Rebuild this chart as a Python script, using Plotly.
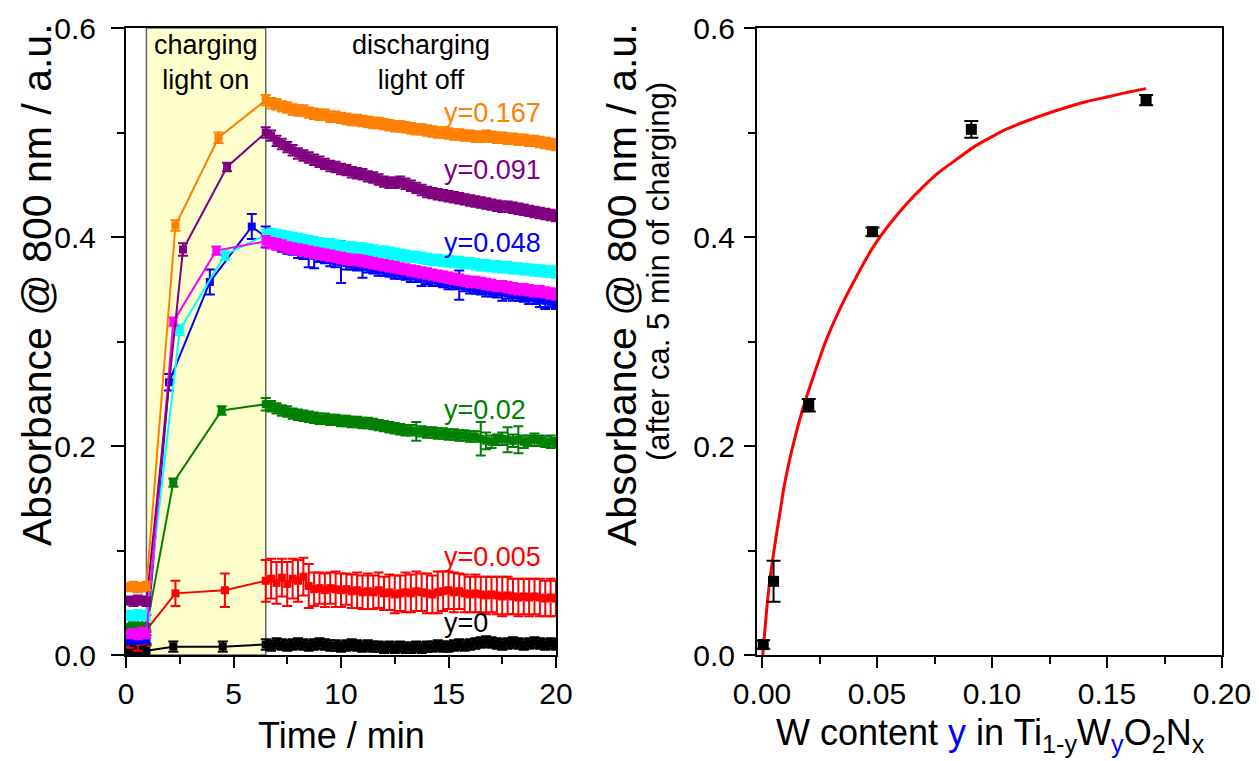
import plotly.graph_objects as go

FONT = "Liberation Sans, Arial, sans-serif"

# ---------------- Left panel data ----------------
t_pre = [0.15, 0.35, 0.55, 0.75, 0.95]
t_dis = [round(6.5 + 0.25 * i, 2) for i in range(55)]

# y = 0 (black)
k_pre = [0.004, 0.005, 0.003, 0.005, 0.004]
k_chg_t = [2.2, 4.5]
k_chg = [0.008, 0.008]
k_dis = [0.010, 0.009, 0.011, 0.010, 0.009, 0.010, 0.011, 0.010, 0.009, 0.010,
         0.011, 0.010, 0.009, 0.009, 0.008, 0.009, 0.010, 0.009, 0.008, 0.009,
         0.008, 0.008, 0.007, 0.008, 0.007, 0.008, 0.007, 0.007, 0.008, 0.007,
         0.008, 0.008, 0.009, 0.008, 0.008, 0.009, 0.010, 0.009, 0.010, 0.011,
         0.012, 0.013, 0.012, 0.011, 0.010, 0.011, 0.012, 0.011, 0.010, 0.011,
         0.012, 0.011, 0.010, 0.011, 0.010]
k_err = 0.005

# y = 0.005 (red)
r_pre = [0.022, 0.028, 0.020, 0.026, 0.024]
r_chg_t = [2.3, 4.6]
r_chg = [0.059, 0.062]
r_dis = [0.071, 0.073, 0.069, 0.074, 0.068, 0.073, 0.071, 0.075, 0.066, 0.063,
         0.064, 0.062, 0.064, 0.063, 0.062, 0.063, 0.061, 0.062, 0.060, 0.061,
         0.060, 0.062, 0.059, 0.060, 0.058, 0.059, 0.060, 0.059, 0.061, 0.060,
         0.059, 0.058, 0.060, 0.061, 0.062, 0.060, 0.061, 0.059, 0.058, 0.059,
         0.058, 0.057, 0.058, 0.057, 0.056, 0.057, 0.056, 0.055, 0.056, 0.055,
         0.056, 0.055, 0.054, 0.055, 0.054]
r_err_pre = [0.015, 0.014, 0.016, 0.015, 0.014]
r_err_chg = [0.012, 0.016]
r_err_dis = [0.020, 0.019, 0.020, 0.018, 0.021, 0.019, 0.020, 0.018, 0.021, 0.016,
             0.015, 0.016, 0.015, 0.017, 0.016, 0.015, 0.016, 0.017, 0.016, 0.017,
             0.016, 0.017, 0.016, 0.017, 0.018, 0.017, 0.019, 0.018, 0.019, 0.018,
             0.019, 0.018, 0.020, 0.019, 0.018, 0.019, 0.017, 0.018, 0.017, 0.018,
             0.017, 0.018, 0.017, 0.018, 0.019, 0.018, 0.017, 0.018, 0.017, 0.018,
             0.017, 0.018, 0.017, 0.018, 0.017]

# y = 0.02 (green)
g_pre = [0.026, 0.028, 0.025, 0.027, 0.026]
g_chg_t = [2.2, 4.45]
g_chg = [0.165, 0.234]
g_dis = [0.240, 0.238, 0.236, 0.234, 0.233, 0.231, 0.230, 0.229, 0.228, 0.227,
         0.226, 0.226, 0.225, 0.225, 0.224, 0.224, 0.223, 0.223, 0.222, 0.222,
         0.221, 0.220, 0.219, 0.218, 0.217, 0.216, 0.215, 0.215, 0.214, 0.214,
         0.213, 0.213, 0.212, 0.212, 0.211, 0.211, 0.210, 0.210, 0.209, 0.209,
         0.207, 0.205, 0.204, 0.206, 0.207, 0.206, 0.205, 0.206, 0.204, 0.205,
         0.206, 0.205, 0.204, 0.204, 0.203]
g_err_dis = [0.006, 0.005, 0.005, 0.005, 0.005, 0.005, 0.005, 0.005, 0.005, 0.005,
             0.005, 0.005, 0.005, 0.005, 0.005, 0.005, 0.005, 0.005, 0.005, 0.005,
             0.005, 0.005, 0.005, 0.005, 0.005, 0.005, 0.005, 0.005, 0.009, 0.005,
             0.005, 0.005, 0.005, 0.005, 0.005, 0.005, 0.005, 0.005, 0.005, 0.005,
             0.016, 0.008, 0.006, 0.005, 0.006, 0.012, 0.006, 0.013, 0.006, 0.005,
             0.006, 0.005, 0.005, 0.006, 0.005]

# y = 0.048 (blue)
b_pre = [0.014, 0.016, 0.015, 0.017, 0.015]
b_chg_t = [2.0, 3.9, 5.85]
b_chg = [0.261, 0.357, 0.410]
b_err_chg = [0.008, 0.012, 0.012]
b_dis = [0.400, 0.396, 0.393, 0.391, 0.389, 0.388, 0.386, 0.385, 0.384, 0.382,
         0.381, 0.380, 0.378, 0.377, 0.376, 0.375, 0.374, 0.373, 0.372, 0.371,
         0.370, 0.369, 0.368, 0.367, 0.366, 0.365, 0.364, 0.363, 0.362, 0.361,
         0.360, 0.359, 0.358, 0.357, 0.356, 0.355, 0.354, 0.353, 0.352, 0.351,
         0.350, 0.349, 0.348, 0.347, 0.347, 0.346, 0.345, 0.344, 0.343, 0.342,
         0.341, 0.340, 0.339, 0.338, 0.337]
b_err_dis = [0.010, 0.006, 0.005, 0.005, 0.005, 0.005, 0.006, 0.006, 0.013, 0.012,
             0.005, 0.005, 0.006, 0.006, 0.020, 0.006, 0.005, 0.005, 0.011, 0.005,
             0.005, 0.006, 0.005, 0.005, 0.006, 0.005, 0.005, 0.006, 0.005, 0.008,
             0.005, 0.006, 0.005, 0.005, 0.006, 0.005, 0.014, 0.005, 0.006, 0.005,
             0.005, 0.006, 0.005, 0.005, 0.008, 0.005, 0.006, 0.005, 0.005, 0.006,
             0.005, 0.007, 0.008, 0.005, 0.006]

# cyan series
c_pre = [0.038, 0.037, 0.039, 0.038, 0.037]
c_chg_t = [2.5, 4.6]
c_chg = [0.311, 0.383]
c_dis = [0.402, 0.403, 0.402, 0.401, 0.400, 0.399, 0.398, 0.397, 0.396, 0.395,
         0.394, 0.393, 0.393, 0.392, 0.391, 0.390, 0.390, 0.389, 0.389, 0.388,
         0.387, 0.386, 0.386, 0.385, 0.384, 0.383, 0.382, 0.381, 0.381, 0.380,
         0.379, 0.378, 0.378, 0.377, 0.377, 0.376, 0.376, 0.375, 0.375, 0.374,
         0.373, 0.373, 0.372, 0.372, 0.371, 0.371, 0.370, 0.370, 0.369, 0.369,
         0.368, 0.368, 0.367, 0.367, 0.366]

# magenta series
m_pre = [0.020, 0.021, 0.019, 0.022, 0.020]
m_chg_t = [2.2, 4.2]
m_chg = [0.319, 0.387]
m_dis = [0.396, 0.394, 0.393, 0.392, 0.390, 0.389, 0.388, 0.387, 0.386, 0.385,
         0.384, 0.383, 0.382, 0.381, 0.380, 0.379, 0.378, 0.378, 0.377, 0.376,
         0.375, 0.374, 0.373, 0.372, 0.371, 0.370, 0.369, 0.368, 0.367, 0.366,
         0.365, 0.364, 0.363, 0.362, 0.361, 0.360, 0.359, 0.358, 0.357, 0.357,
         0.356, 0.355, 0.354, 0.353, 0.353, 0.352, 0.351, 0.350, 0.350, 0.349,
         0.348, 0.348, 0.347, 0.346, 0.345]

# y = 0.091 (purple)
p_pre = [0.052, 0.051, 0.053, 0.052, 0.051]
p_chg_t = [2.65, 4.7]
p_chg = [0.388, 0.467]
p_dis = [0.500, 0.497, 0.492, 0.489, 0.486, 0.483, 0.480, 0.478, 0.476, 0.474,
         0.472, 0.470, 0.468, 0.467, 0.465, 0.464, 0.462, 0.461, 0.460, 0.458,
         0.457, 0.455, 0.453, 0.452, 0.452, 0.453, 0.451, 0.449, 0.447, 0.445,
         0.443, 0.442, 0.441, 0.440, 0.439, 0.438, 0.437, 0.436, 0.435, 0.434,
         0.433, 0.432, 0.431, 0.430, 0.429, 0.429, 0.428, 0.427, 0.426, 0.425,
         0.424, 0.423, 0.422, 0.421, 0.420]

# y = 0.167 (orange)
o_pre = [0.065, 0.066, 0.064, 0.065, 0.066]
o_chg_t = [2.3, 4.3]
o_chg = [0.411, 0.495]
o_dis = [0.531, 0.528, 0.527, 0.525, 0.524, 0.522, 0.521, 0.521, 0.519, 0.518,
         0.517, 0.517, 0.515, 0.515, 0.514, 0.513, 0.512, 0.512, 0.511, 0.510,
         0.509, 0.509, 0.508, 0.507, 0.506, 0.506, 0.505, 0.504, 0.503, 0.503,
         0.502, 0.501, 0.500, 0.500, 0.499, 0.498, 0.498, 0.497, 0.497, 0.496,
         0.496, 0.497, 0.496, 0.495, 0.495, 0.494, 0.494, 0.493, 0.493, 0.492,
         0.492, 0.491, 0.490, 0.489, 0.488]

# labels on the left panel
label_text = ["y=0.167", "y=0.091", "y=0.048", "y=0.02", "y=0.005", "y=0"]
label_x = [19.4, 19.4, 19.4, 18.7, 19.4, 16.95]
label_y = [0.519, 0.464, 0.394, 0.234, 0.094, 0.031]
label_col = ["#FF8000", "#800080", "#0000FF", "#008000", "#FF0000", "#000000"]

# ---------------- Right panel data ----------------
w_content = [0.0005, 0.005, 0.0203, 0.048, 0.091, 0.167]
abs_5min = [0.010, 0.0705, 0.239, 0.405, 0.503, 0.531]
abs_err = [0.004, 0.0196, 0.006, 0.004, 0.008, 0.005]
fit_x = [0.0003, 0.0015, 0.0025, 0.0035, 0.005, 0.0065, 0.008, 0.0094, 0.012,
         0.015, 0.0175, 0.0195, 0.023, 0.028, 0.034, 0.041, 0.0485, 0.055,
         0.063, 0.070, 0.077, 0.085, 0.092, 0.100, 0.106, 0.115, 0.128,
         0.140, 0.150, 0.160, 0.167]
fit_y = [0.0, 0.031, 0.055, 0.074, 0.097, 0.119, 0.139, 0.159, 0.187,
         0.214, 0.234, 0.248, 0.271, 0.302, 0.332, 0.362, 0.391, 0.411,
         0.432, 0.448, 0.462, 0.475, 0.486, 0.496, 0.503, 0.511, 0.521,
         0.529, 0.534, 0.539, 0.542]

fig = go.Figure()

def add_series(pre, chg_t, chg, dis, color, err_pre, err_chg, err_dis):
    x = list(t_pre) + list(chg_t) + list(t_dis)
    y = list(pre) + list(chg) + list(dis)
    e = list(err_pre) + list(err_chg) + list(err_dis)
    fig.add_trace(go.Scatter(
        x=x, y=y, mode="lines+markers", xaxis="x", yaxis="y",
        line=dict(color=color, width=2),
        marker=dict(symbol="square", size=8, color=color),
        error_y=dict(type="data", array=e, color=color, thickness=2, width=5),
        showlegend=False, hoverinfo="skip"))

def const(v, n):
    return [v] * n

add_series(k_pre, k_chg_t, k_chg, k_dis, "#000000",
           const(k_err, 5), const(0.005, 2), const(k_err, 55))
add_series(r_pre, r_chg_t, r_chg, r_dis, "#FF0000", r_err_pre, r_err_chg, r_err_dis)
add_series(g_pre, g_chg_t, g_chg, g_dis, "#008000",
           const(0.004, 5), [0.004, 0.004], g_err_dis)
add_series(b_pre, b_chg_t, b_chg, b_dis, "#0000FF",
           const(0.004, 5), b_err_chg, b_err_dis)
add_series(c_pre, c_chg_t, c_chg, c_dis, "#00FFFF",
           const(0.004, 5), [0.005, 0.005], const(0.005, 55))
add_series(m_pre, m_chg_t, m_chg, m_dis, "#FF00FF",
           const(0.004, 5), [0.004, 0.004], const(0.005, 55))
add_series(p_pre, p_chg_t, p_chg, p_dis, "#800080",
           const(0.004, 5), [0.006, 0.004], const(0.005, 55))
add_series(o_pre, o_chg_t, o_chg, o_dis, "#FF8000",
           const(0.004, 5), [0.005, 0.005], const(0.005, 55))

# right panel
fig.add_trace(go.Scatter(
    x=fit_x, y=fit_y, mode="lines", xaxis="x2", yaxis="y2",
    line=dict(color="#FF0000", width=3, shape="spline", smoothing=0.6),
    showlegend=False, hoverinfo="skip"))
fig.add_trace(go.Scatter(
    x=w_content, y=abs_5min, mode="markers", xaxis="x2", yaxis="y2",
    marker=dict(symbol="square", size=11, color="black"),
    error_y=dict(type="data", array=abs_err, color="black", thickness=2, width=7),
    showlegend=False, hoverinfo="skip"))

# page body has an 8 px margin: work in screen pixels and convert
OFF = 8
W, H = 1259 - OFF, 761 - OFF

def px(p):
    return (p - OFF) / W

def py(p):
    return 1 - (p - OFF) / H

ydom = [py(655), py(28)]

axis_common = dict(
    showline=True, linecolor="black", linewidth=2, mirror=True,
    ticks="outside", tickwidth=2, tickcolor="black",
    showgrid=False, zeroline=False, automargin=False,
    tickfont=dict(family=FONT, size=30, color="black"),
)
minor_common = dict(ticklen=7, tickwidth=1.5, tickcolor="black", ticks="outside")

fig.update_layout(
    width=W, height=H,
    margin=dict(l=0, r=0, t=0, b=0, autoexpand=False),
    paper_bgcolor="white", plot_bgcolor="white",
    font=dict(family=FONT, color="black"),
    xaxis=dict(domain=[px(126), px(556)], range=[0, 20], tickvals=[0, 5, 10, 15, 20],
               minor=dict(dtick=2.5, tick0=0, **minor_common), ticklen=11,
               anchor="y", ticklabelstandoff=0, **axis_common),
    yaxis=dict(domain=ydom, range=[0, 0.6], tickvals=[0, 0.2, 0.4, 0.6], tickformat=".1f",
               minor=dict(dtick=0.1, tick0=0, **minor_common), ticklen=13,
               anchor="x", ticklabelstandoff=9, **axis_common),
    xaxis2=dict(domain=[px(757), px(1222)], range=[-0.0022, 0.2],
                tickvals=[0, 0.05, 0.1, 0.15, 0.2], tickformat=".2f",
                minor=dict(dtick=0.025, tick0=0, **minor_common), ticklen=11,
                anchor="y2", ticklabelstandoff=0, **axis_common),
    yaxis2=dict(domain=ydom, range=[0, 0.6], tickvals=[0, 0.2, 0.4, 0.6], tickformat=".1f",
                minor=dict(dtick=0.1, tick0=0, **minor_common), ticklen=11,
                anchor="x2", ticklabelstandoff=3, **axis_common),
)

# charging region
fig.add_shape(type="rect", xref="x", yref="y", x0=0.95, x1=6.5, y0=0, y1=0.6,
              fillcolor="#FFFFCC", line=dict(color="#666666", width=1.5), layer="below")

ann = []
ann.append(dict(x=3.7, y=0.567, xref="x", yref="y", text="charging<br>light on",
                showarrow=False, font=dict(family=FONT, size=27, color="black"),
                xanchor="center", yanchor="middle"))
ann.append(dict(x=13.7, y=0.567, xref="x", yref="y", text="discharging<br>light off",
                showarrow=False, font=dict(family=FONT, size=27, color="black"),
                xanchor="center", yanchor="middle"))
for txt, lx, ly, col in zip(label_text, label_x, label_y, label_col):
    ann.append(dict(x=lx, y=ly, xref="x", yref="y", text=txt, showarrow=False,
                    font=dict(family=FONT, size=27, color=col),
                    xanchor="right", yanchor="middle"))

# axis titles
ann.append(dict(x=px(341), y=py(735), xref="paper", yref="paper", text="Time / min",
                showarrow=False, font=dict(family=FONT, size=36, color="black"),
                xanchor="center", yanchor="middle"))
ann.append(dict(x=px(990), y=py(735), xref="paper", yref="paper",
                text='W content <span style="color:#0000FF">y</span> in Ti<sub>1-y</sub>W<sub><span style="color:#0000FF">y</span></sub>O<sub>2</sub>N<sub>x</sub>',
                showarrow=False, font=dict(family=FONT, size=36, color="black"),
                xanchor="center", yanchor="middle"))
ann.append(dict(x=px(37), y=py(285), xref="paper", yref="paper",
                text="Absorbance @ 800 nm / a.u.", textangle=-90,
                showarrow=False, font=dict(family=FONT, size=41, color="black"),
                xanchor="center", yanchor="middle"))
ann.append(dict(x=px(622), y=py(285), xref="paper", yref="paper",
                text="Absorbance @ 800 nm / a.u.", textangle=-90,
                showarrow=False, font=dict(family=FONT, size=41, color="black"),
                xanchor="center", yanchor="middle"))
ann.append(dict(x=px(658), y=py(272), xref="paper", yref="paper",
                text="(after ca. 5 min of charging)", textangle=-90,
                showarrow=False, font=dict(family=FONT, size=31, color="black"),
                xanchor="center", yanchor="middle"))
fig.update_layout(annotations=ann)

fig.write_html("out.html")
